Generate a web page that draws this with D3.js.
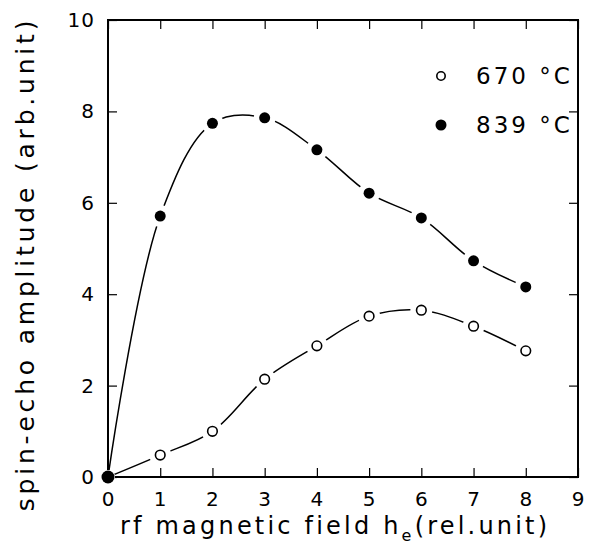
<!DOCTYPE html>
<html>
<script src='https://d3js.org/d3.v7.min.js'></script>
<style>
body { margin: 0; background: white; }
text { font-family: "DejaVu Sans", sans-serif; fill: black; }
</style>
<body>
<svg width=594 height=548></svg>
<script>
// field values (rel. unit)
var field = [0, 1, 2, 3, 4, 5, 6, 7, 8];
// spin-echo amplitude, 670 C (open circles)
var amp670 = [0, 0.48, 1.0, 2.14, 2.87, 3.52, 3.65, 3.30, 2.76];
// spin-echo amplitude, 839 C (filled circles)
var amp839 = [0, 5.71, 7.74, 7.86, 7.16, 6.21, 5.67, 4.73, 4.16];
var xTicks = [0, 1, 2, 3, 4, 5, 6, 7, 8, 9];
var yTicks = [0, 2, 4, 6, 8, 10];

var plotL = 108, plotR = 578, plotT = 20, plotB = 477;

var x = d3.scaleLinear().domain([0, 9]).range([plotL, plotR]);
var y = d3.scaleLinear().domain([0, 10]).range([plotB, plotT]);

var svg = d3.select("svg");

// frame
svg.append("rect")
  .attr("x", plotL).attr("y", plotT)
  .attr("width", plotR - plotL).attr("height", plotB - plotT)
  .attr("fill", "none").attr("stroke", "black").attr("stroke-width", 2);

// inward ticks on all four sides
svg.append("g").attr("transform", "translate(0," + plotB + ")")
  .call(d3.axisBottom(x).tickValues(xTicks).tickSize(-9).tickPadding(15).tickFormat(d3.format("d")))
  .call(g => g.select(".domain").remove());
svg.append("g").attr("transform", "translate(0," + plotT + ")")
  .call(d3.axisTop(x).tickValues(xTicks).tickSize(-9).tickFormat(""))
  .call(g => g.select(".domain").remove());
svg.append("g").attr("transform", "translate(" + plotL + ",0)")
  .call(d3.axisLeft(y).tickValues(yTicks).tickSize(-9).tickPadding(13).tickFormat(d3.format("d")))
  .call(g => g.select(".domain").remove());
svg.append("g").attr("transform", "translate(" + plotR + ",0)")
  .call(d3.axisRight(y).tickValues(yTicks).tickSize(-9).tickFormat(""))
  .call(g => g.select(".domain").remove());

svg.selectAll(".tick line").attr("stroke", "black").attr("stroke-width", 1.2);
svg.selectAll(".tick text").style("font-size", "20px").style("letter-spacing", "1px").attr("fill", "black");

// smooth curves through the points
var line = d3.line()
  .x(function(d, i) { return x(field[i]); })
  .y(function(d) { return y(d); })
  .curve(d3.curveCatmullRom.alpha(0.5));

[amp670, amp839].forEach(function(s) {
  svg.append("path").datum(s)
    .attr("d", line)
    .attr("fill", "none").attr("stroke", "black").attr("stroke-width", 1.5);
});

// white halos so the lines stop short of the markers
[amp670, amp839].forEach(function(s) {
  svg.append("g").selectAll("circle").data(s).enter().append("circle")
    .attr("cx", function(d, i) { return x(field[i]); })
    .attr("cy", function(d) { return y(d); })
    .attr("r", function(d, i) { return i == 0 ? 7 : 11; })
    .attr("fill", "white");
});

svg.append("g").selectAll("circle").data(amp670).enter().append("circle")
  .attr("cx", function(d, i) { return x(field[i]); })
  .attr("cy", function(d) { return y(d); })
  .attr("r", 4.8)
  .attr("fill", "white").attr("stroke", "black").attr("stroke-width", 1.6);

svg.append("g").selectAll("circle").data(amp839).enter().append("circle")
  .attr("cx", function(d, i) { return x(field[i]); })
  .attr("cy", function(d) { return y(d); })
  .attr("r", function(d, i) { return i == 0 ? 6.5 : 5.5; })
  .attr("fill", "black");

// legend
svg.append("circle").attr("cx", 441).attr("cy", 76).attr("r", 4.2)
  .attr("fill", "white").attr("stroke", "black").attr("stroke-width", 1.6);
svg.append("text").attr("x", 476).attr("y", 84).style("font-size", "23px")
  .style("letter-spacing", "3px").text("670 °C");
svg.append("circle").attr("cx", 441).attr("cy", 125).attr("r", 5.5).attr("fill", "black");
svg.append("text").attr("x", 476).attr("y", 133).style("font-size", "23px")
  .style("letter-spacing", "3px").text("839 °C");

// x-axis title
var xt = svg.append("text").attr("x", 120).attr("y", 534)
  .style("font-size", "24px").style("letter-spacing", "3.2px");
xt.append("tspan").text("rf magnetic field h");
xt.append("tspan").attr("dy", 7).style("font-size", "16px").text("e");
xt.append("tspan").attr("dy", -7).text("(rel.unit)");

// y-axis title
svg.append("text")
  .attr("transform", "translate(34,264) rotate(-90)")
  .attr("text-anchor", "middle")
  .style("font-size", "25px").style("letter-spacing", "3.8px")
  .text("spin-echo amplitude (arb.unit)");
</script>
</body>
</html>
